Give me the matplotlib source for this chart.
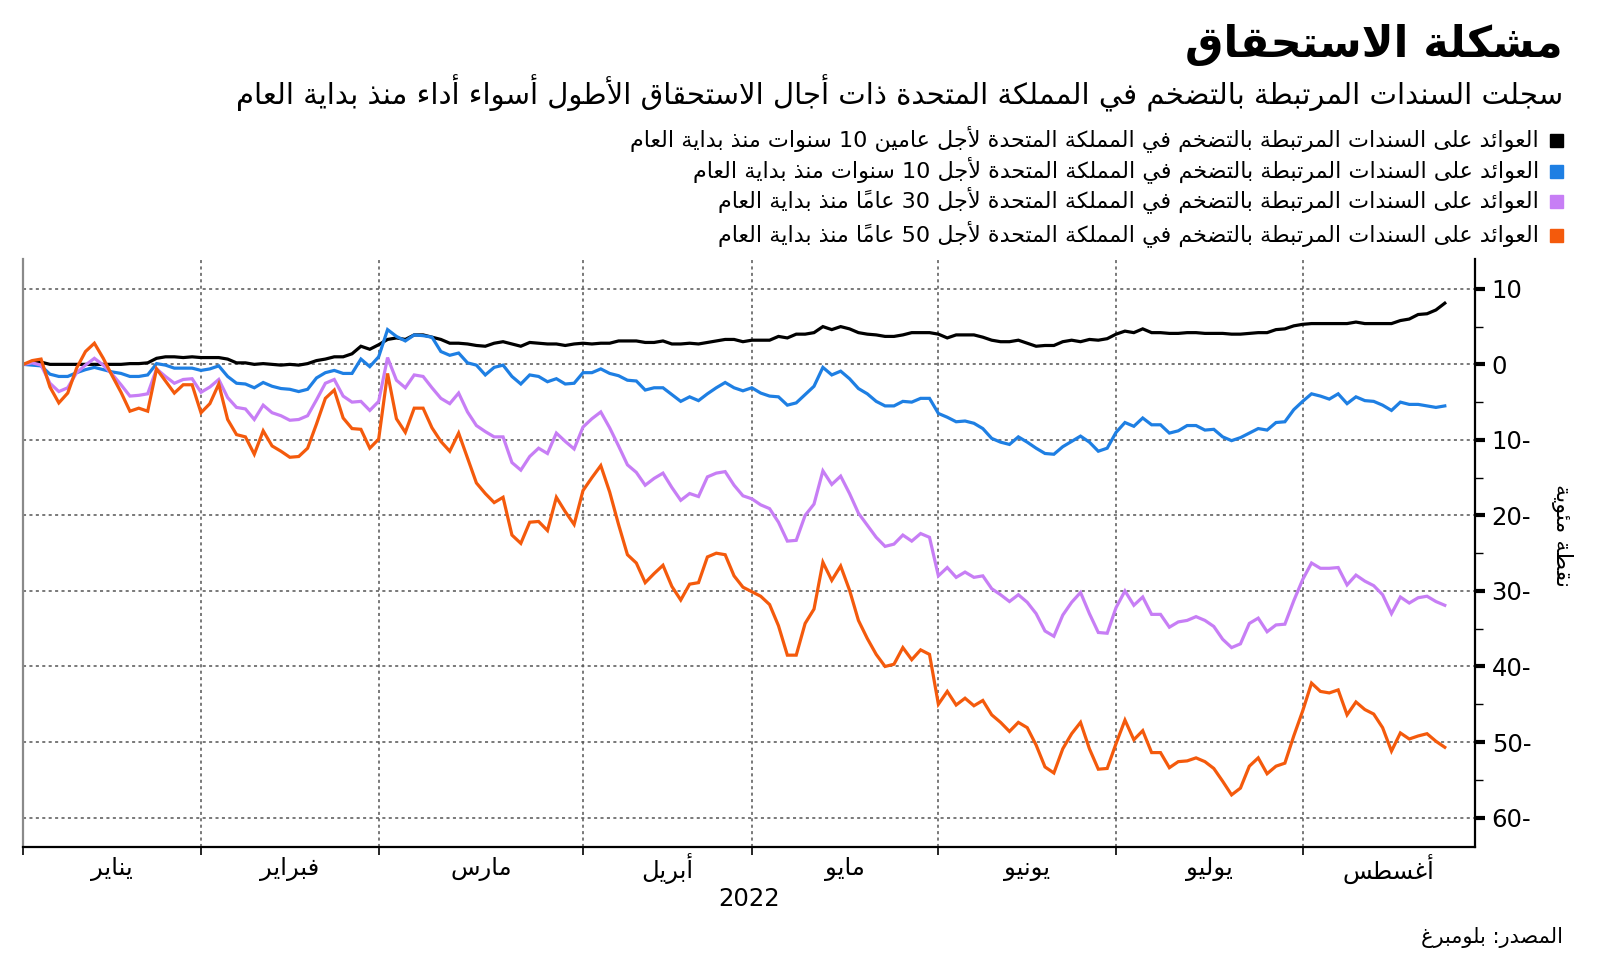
import numpy as np
import matplotlib
matplotlib.use("Agg")
import matplotlib.pyplot as plt
from matplotlib.patches import Rectangle
from matplotlib.ticker import FixedLocator

############################################
# data (change since start of year)
############################################

# trading-day index where each month starts (Jan .. Aug 2022)
month_starts = [0, 20, 40, 63, 82, 103, 123, 144]
month_names = ["يناير", "فبراير", "مارس", "أبريل", "مايو", "يونيو", "يوليو", "أغسطس"]

gilt_2y = [
    0, 0.2, 0.3, 0, 0, 0, 0, 0, 0, 0, 0, 0, 0.1, 0.1, 0.2, 0.8, 1.0, 1.0, 0.9, 1.0,
    0.9, 0.9, 0.9, 0.7, 0.2, 0.2, 0, 0.1, 0, -0.1, 0, -0.1, 0.1, 0.5, 0.7, 1.0, 1.0, 1.4, 2.4, 2.0,
    2.6, 3.3, 3.5, 3.3, 3.9, 3.9, 3.6, 3.3, 2.8, 2.8, 2.7, 2.5, 2.4, 2.8, 3.0, 2.7, 2.4, 2.9, 2.8, 2.7,
    2.7, 2.5, 2.7, 2.8, 2.7, 2.8, 2.8, 3.1, 3.1, 3.1, 2.9, 2.9, 3.1, 2.7, 2.7, 2.8, 2.7, 2.9, 3.1, 3.3,
    3.3, 3.0, 3.2, 3.2, 3.2, 3.7, 3.5, 4.0, 4.0, 4.2, 5.0, 4.6, 5.0, 4.7, 4.2, 4.0, 3.9, 3.7, 3.7, 3.9,
    4.2, 4.2, 4.2, 4.0, 3.5, 3.9, 3.9, 3.9, 3.6, 3.2, 3.0, 3.0, 3.2, 2.8, 2.4, 2.5, 2.5, 3.0, 3.2, 3.0,
    3.3, 3.2, 3.4, 4.0, 4.4, 4.2, 4.7, 4.2, 4.2, 4.1, 4.1, 4.2, 4.2, 4.1, 4.1, 4.1, 4.0, 4.0, 4.1, 4.2,
    4.2, 4.6, 4.7, 5.1, 5.3, 5.4, 5.4, 5.4, 5.4, 5.4, 5.6, 5.4, 5.4, 5.4, 5.4, 5.8, 6.0, 6.6, 6.7, 7.2,
    8.1,
]

linker_10y = [
    0, -0.1, -0.2, -1.3, -1.6, -1.6, -1.1, -0.7, -0.4, -0.7, -1.0, -1.2, -1.6, -1.6, -1.4, 0.1, -0.1, -0.5, -0.5, -0.5,
    -0.8, -0.6, -0.2, -1.6, -2.5, -2.6, -3.1, -2.4, -2.9, -3.2, -3.3, -3.6, -3.3, -1.8, -1.1, -0.8, -1.2, -1.2, 0.7, -0.3,
    1.0, 4.6, 3.7, 3.1, 3.9, 3.8, 3.6, 1.7, 1.2, 1.5, 0.2, -0.1, -1.4, -0.4, -0.1, -1.6, -2.6, -1.4, -1.6, -2.3,
    -1.9, -2.6, -2.5, -1.1, -1.1, -0.6, -1.2, -1.5, -2.1, -2.2, -3.4, -3.1, -3.1, -4.0, -4.9, -4.3, -4.8, -3.9, -3.1, -2.4,
    -3.1, -3.5, -3.1, -3.8, -4.2, -4.3, -5.4, -5.1, -4.0, -2.9, -0.4, -1.4, -0.9, -1.9, -3.2, -3.9, -4.9, -5.5, -5.5, -4.9,
    -5.0, -4.5, -4.5, -6.5, -7.0, -7.6, -7.5, -7.8, -8.5, -9.8, -10.3, -10.6, -9.6, -10.3, -11.1, -11.8, -11.9, -10.9, -10.2, -9.5,
    -10.3, -11.5, -11.1, -9.0, -7.7, -8.2, -7.1, -8.0, -8.0, -9.1, -8.8, -8.1, -8.1, -8.7, -8.6, -9.6, -10.1, -9.7, -9.1, -8.5,
    -8.7, -7.7, -7.6, -6.0, -4.9, -3.9, -4.2, -4.6, -3.9, -5.2, -4.3, -4.8, -4.9, -5.4, -6.1, -5.0, -5.3, -5.3, -5.5, -5.7,
    -5.5,
]

linker_30y = [
    0, 0.2, -0.1, -2.5, -3.6, -3.1, -1.1, -0.1, 0.8, -0.1, -1.3, -2.7, -4.2, -4.1, -3.9, -0.6, -1.6, -2.5, -2.0, -1.9,
    -3.7, -3.0, -2.0, -4.4, -5.7, -5.9, -7.3, -5.4, -6.4, -6.8, -7.4, -7.3, -6.8, -4.7, -2.5, -2.0, -4.2, -5.0, -4.9, -6.1,
    -4.9, 0.9, -2.1, -3.1, -1.4, -1.6, -3.1, -4.5, -5.2, -3.8, -6.3, -8.1, -8.9, -9.6, -9.6, -13.0, -14.0, -12.2, -11.1, -11.8,
    -9.1, -10.2, -11.2, -8.3, -7.2, -6.3, -8.4, -10.8, -13.3, -14.3, -16.0, -15.1, -14.4, -16.3, -18.0, -17.1, -17.5, -14.9, -14.4, -14.2,
    -16.0, -17.4, -17.8, -18.6, -19.1, -20.9, -23.4, -23.3, -20.0, -18.5, -14.1, -15.9, -14.8, -17.1, -19.7, -21.3, -22.9, -24.1, -23.8, -22.6,
    -23.4, -22.4, -22.9, -28.0, -26.9, -28.2, -27.5, -28.2, -28.0, -29.7, -30.5, -31.4, -30.5, -31.5, -33.0, -35.3, -36.0, -33.2, -31.5, -30.2,
    -33.0, -35.5, -35.6, -32.2, -30.0, -31.9, -30.8, -33.1, -33.1, -34.8, -34.1, -33.9, -33.4, -33.9, -34.7, -36.4, -37.5, -37.0, -34.3, -33.6,
    -35.4, -34.5, -34.4, -31.3, -28.5, -26.3, -27.0, -27.0, -26.9, -29.2, -27.9, -28.7, -29.3, -30.5, -33.0, -30.8, -31.6, -30.9, -30.7, -31.4,
    -31.9,
]

linker_50y = [
    0, 0.5, 0.7, -3.0, -5.1, -3.8, -0.5, 1.7, 2.8, 0.8, -1.5, -3.7, -6.2, -5.8, -6.2, -0.6, -2.2, -3.8, -2.7, -2.7,
    -6.4, -5.2, -2.6, -7.3, -9.3, -9.6, -11.9, -8.8, -10.8, -11.5, -12.3, -12.2, -11.1, -7.9, -4.5, -3.4, -7.1, -8.5, -8.6, -11.1,
    -9.9, -1.2, -7.2, -9.0, -5.8, -5.8, -8.4, -10.2, -11.5, -9.1, -12.4, -15.7, -17.1, -18.3, -17.6, -22.6, -23.7, -20.9, -20.8, -22.0,
    -17.6, -19.5, -21.2, -16.7, -15.0, -13.4, -16.9, -21.2, -25.2, -26.3, -28.9, -27.7, -26.6, -29.4, -31.2, -29.1, -28.9, -25.5, -25.0, -25.2,
    -28.0, -29.5, -30.1, -30.7, -31.8, -34.6, -38.5, -38.5, -34.3, -32.4, -26.2, -28.6, -26.7, -29.9, -33.9, -36.3, -38.4, -40.0, -39.7, -37.5,
    -39.1, -37.8, -38.4, -45.0, -43.3, -45.1, -44.2, -45.2, -44.5, -46.4, -47.4, -48.6, -47.4, -48.1, -50.4, -53.3, -54.1, -50.9, -48.9, -47.4,
    -50.9, -53.6, -53.5, -50.2, -47.1, -49.7, -48.5, -51.4, -51.4, -53.4, -52.6, -52.5, -52.1, -52.6, -53.5, -55.2, -57.0, -56.1, -53.2, -52.1,
    -54.2, -53.2, -52.8, -49.2, -45.9, -42.2, -43.3, -43.5, -43.1, -46.4, -44.7, -45.7, -46.3, -48.1, -51.2, -48.8, -49.6, -49.2, -48.9, -49.9,
    -50.7,
]

series_labels = [
    "العوائد على السندات المرتبطة بالتضخم في المملكة المتحدة لأجل عامين 10 سنوات منذ بداية العام",
    "العوائد على السندات المرتبطة بالتضخم في المملكة المتحدة لأجل 10 سنوات منذ بداية العام",
    "العوائد على السندات المرتبطة بالتضخم في المملكة المتحدة لأجل 30 عاماً منذ بداية العام",
    "العوائد على السندات المرتبطة بالتضخم في المملكة المتحدة لأجل 50 عاماً منذ بداية العام",
]
series_colors = ["#000000", "#1e7fe3", "#c77ef5", "#f45a0c"]

title = "مشكلة الاستحقاق"
subtitle = "سجلت السندات المرتبطة بالتضخم في المملكة المتحدة ذات أجال الاستحقاق الأطول أسواء أداء منذ بداية العام"
y_label = "نقطة مئوية"
source = "المصدر: بلومبرغ"
y_ticks = [10, 0, -10, -20, -30, -40, -50, -60]

############################################
# arabic shaping (matplotlib has no bidi / joining)
############################################

DUAL = {"ئ": 0xFE89, "ب": 0xFE8F, "ت": 0xFE95, "ث": 0xFE99, "ج": 0xFE9D, "ح": 0xFEA1,
        "خ": 0xFEA5, "س": 0xFEB1, "ش": 0xFEB5, "ص": 0xFEB9, "ض": 0xFEBD, "ط": 0xFEC1,
        "ظ": 0xFEC5, "ع": 0xFEC9, "غ": 0xFECD, "ف": 0xFED1, "ق": 0xFED5, "ك": 0xFED9,
        "ل": 0xFEDD, "م": 0xFEE1, "ن": 0xFEE5, "ه": 0xFEE9, "ي": 0xFEF1}
RIGHT = {"آ": 0xFE81, "أ": 0xFE83, "ؤ": 0xFE85, "إ": 0xFE87, "ا": 0xFE8D, "ة": 0xFE93,
         "د": 0xFEA9, "ذ": 0xFEAB, "ر": 0xFEAD, "ز": 0xFEAF, "و": 0xFEED, "ى": 0xFEEF}
LAMALEF = {"آ": 0xFEF5, "أ": 0xFEF7, "إ": 0xFEF9, "ا": 0xFEFB}
MARKS = set(chr(c) for c in range(0x064B, 0x0653))


def ar(text):
    units = []
    i = 0
    while i < len(text):
        c = text[i]
        if c in MARKS and units:
            units[-1][2] += c
        elif c == "ل" and i + 1 < len(text) and text[i + 1] in LAMALEF:
            units.append(["LA", text[i + 1], ""])
            i += 1
        else:
            units.append(["C", c, ""])
        i += 1

    def joins_next(u):
        return u[0] == "C" and u[1] in DUAL

    def joins_prev(u):
        return u[0] == "LA" or u[1] in DUAL or u[1] in RIGHT

    glyphs = []
    for k, u in enumerate(units):
        p = k > 0 and joins_next(units[k - 1]) and joins_prev(u)
        n = k + 1 < len(units) and joins_next(u) and joins_prev(units[k + 1])
        if u[0] == "LA":
            g = chr(LAMALEF[u[1]] + (1 if p else 0))
        elif u[1] in DUAL:
            g = chr(DUAL[u[1]] + (3 if p and n else 1 if p else 2 if n else 0))
        elif u[1] in RIGHT:
            g = chr(RIGHT[u[1]] + (1 if p else 0))
        else:
            g = u[1]
        glyphs.append(g + u[2])

    tokens = []
    for g in glyphs:
        if g.isdigit() and tokens and tokens[-1].isdigit():
            tokens[-1] += g
        else:
            tokens.append(g)
    return "".join(reversed(tokens))


############################################
# plot
############################################

plt.rcParams["font.family"] = ["DejaVu Sans"]

W, H = 1600, 964
fig = plt.figure(figsize=(W / 100, H / 100), dpi=100)


def fx(px):
    return px / W


def fy(py):
    return 1 - py / H


ax = fig.add_axes([fx(23.3), fy(847), fx(1475) - fx(23.3), fy(259) - fy(847)])

series = [gilt_2y, linker_10y, linker_30y, linker_50y]
for vals, col in zip(series, series_colors):
    ax.plot(np.arange(len(vals)), vals, color=col, lw=2.3, solid_joinstyle="miter")

x_end = 163.4
ax.set_xlim(0, x_end)
ax.set_ylim(-63.9, 13.95)

# grid
for yv in y_ticks:
    ax.axhline(yv, color="#555555", lw=1.1, ls=(0, (2, 2.2)), zorder=0)
for xv in month_starts[1:]:
    ax.axvline(xv, color="#555555", lw=1.1, ls=(0, (2, 2.2)), zorder=0)

# spines
ax.spines["top"].set_visible(False)
ax.spines["left"].set_color("#8a8a8a")
ax.spines["left"].set_linewidth(1.6)
ax.spines["right"].set_linewidth(1.6)
ax.spines["bottom"].set_linewidth(1.6)

# y axis on right
ax.yaxis.tick_right()
ax.set_yticks(y_ticks)
ax.set_yticklabels([f"{abs(v)}-" if v < 0 else f"{v}" for v in y_ticks], fontsize=17.5)
ax.yaxis.set_minor_locator(FixedLocator([5, -5, -15, -25, -35, -45, -55]))
ax.tick_params(axis="y", which="major", length=7, width=3, pad=5, direction="out")
ax.tick_params(axis="y", which="minor", length=6, width=1, direction="out", right=True, left=False)
ax.tick_params(axis="y", which="both", left=False)

# x axis: month ticks at boundaries, labels in the middle
ax.set_xticks(month_starts)
ax.set_xticklabels([])
ax.tick_params(axis="x", which="major", length=6, width=1.2, direction="out")
mids = [(a + b) / 2 for a, b in zip(month_starts, month_starts[1:] + [x_end])]
for m, name in zip(mids, month_names):
    ax.text(m, -0.037, ar(name), transform=ax.get_xaxis_transform(),
            ha="center", va="center", fontsize=17.5)
ax.text(0.5, -0.088, "2022", transform=ax.transAxes, ha="center", va="center", fontsize=17.5)

fig.text(fx(1562), fy(535), ar(y_label), rotation=270, ha="center", va="center", fontsize=16)

# titles
fig.text(fx(1563), fy(45), ar(title), ha="right", va="center", fontsize=31, fontweight="bold")
fig.text(fx(1563), fy(93), ar(subtitle), ha="right", va="center", fontsize=21)

# legend
row_y = [139, 170, 200, 234]
for yy, lab, col in zip(row_y, series_labels, series_colors):
    fig.add_artist(Rectangle((fx(1550), fy(yy + 8)), fx(13), fy(0) - fy(13),
                             transform=fig.transFigure, color=col))
    fig.text(fx(1539), fy(yy), ar(lab), ha="right", va="center", fontsize=16)

fig.text(fx(1563), fy(937), ar(source), ha="right", va="center", fontsize=15)

plt.savefig("out.png", dpi=100)
